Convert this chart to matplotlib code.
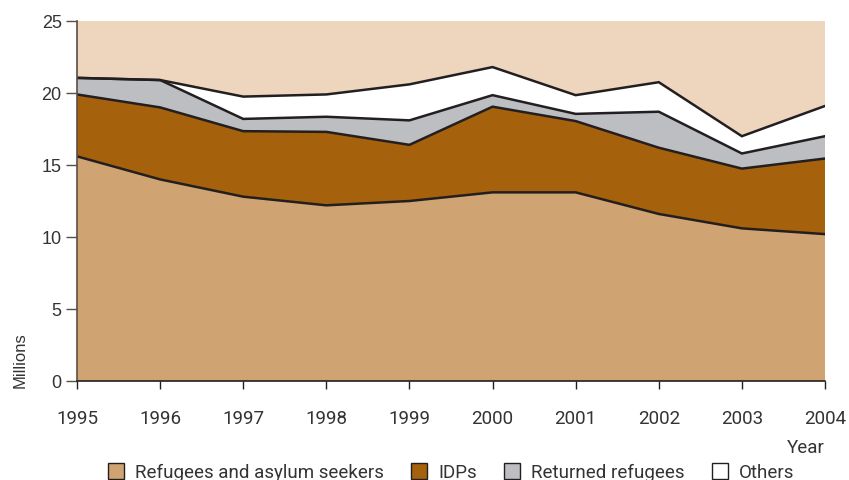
import numpy as np
import matplotlib.pyplot as plt
from matplotlib.patches import Patch

years = [1995, 1996, 1997, 1998, 1999, 2000, 2001, 2002, 2003, 2004]
refugees = [15.6, 14.0, 12.8, 12.2, 12.5, 13.1, 13.1, 11.6, 10.6, 10.2]
idps = [4.3, 5.0, 4.55, 5.1, 3.9, 5.95, 4.95, 4.6, 4.15, 5.25]
returned = [1.15, 1.9, 0.85, 1.05, 1.7, 0.8, 0.5, 2.5, 1.05, 1.55]
others = [0.0, 0.0, 1.55, 1.55, 2.5, 1.95, 1.3, 2.05, 1.2, 2.1]

labels = ['Refugees and asylum seekers', 'IDPs', 'Returned refugees', 'Others']
colors = ['#D0A373', '#A6610C', '#BDBEC1', '#FFFFFF']
bg = '#EDD6BD'
edge = '#231F20'

narrow = 'Roboto'
wide = 'Liberation Sans'

fig = plt.figure(figsize=(8.49, 4.81), dpi=100)
ax = fig.add_axes([77/849, 1 - 382/481, (825 - 77)/849, (382 - 22)/481])
ax.set_facecolor(bg)

series = [refugees, idps, returned, others]
stack = np.cumsum(np.array(series), axis=0)
lower = np.zeros(len(years))
for i, top in enumerate(stack):
    ax.fill_between(years, lower, top, facecolor=colors[i], edgecolor='none', zorder=2)
    ax.plot(years, top, color=edge, lw=1.8, solid_joinstyle='miter', zorder=3)
    lower = top

ax.set_xlim(1995, 2004)
ax.set_ylim(0, 25)
ax.set_xticks(years)
ax.set_xticklabels([str(y) for y in years], fontfamily=narrow, fontsize=13.5, color='#333333')
ax.set_yticks([0, 5, 10, 15, 20, 25])
ax.set_yticklabels(['0', '5', '10', '15', '20', '25'], fontfamily=wide, fontsize=13, color='#333333')

for s in ['top', 'right']:
    ax.spines[s].set_visible(False)
ax.spines['left'].set_color('#5B4E46')
ax.spines['bottom'].set_color('#231F20')
ax.spines['left'].set_linewidth(1.2)
ax.spines['bottom'].set_linewidth(1.2)
ax.spines['left'].set_zorder(4)
ax.spines['bottom'].set_zorder(4)
ax.tick_params(axis='x', direction='out', length=6, width=1, pad=14, colors='#231F20', labelcolor='#333333')
ax.tick_params(axis='y', direction='out', length=8, width=1, pad=3, colors='#5B4E46', labelcolor='#333333')

fig.text(825/849, 1 - 448/481, 'Year', ha='right', va='center', fontfamily=narrow, fontsize=13.5, color='#333333')
fig.text(20/849, 1 - 388/481, 'Millions', ha='center', va='bottom', rotation=90, fontfamily=wide, fontsize=12, color='#333333')

handles = [Patch(facecolor=c, edgecolor=edge, linewidth=1.0) for c in colors]
fig.legend(handles, labels, loc='center', bbox_to_anchor=(451/849, 1 - 473/481), ncol=4, frameon=False,
           prop={'family': narrow, 'size': 13.5}, handlelength=0.85, handleheight=0.95, handletextpad=0.6,
           columnspacing=1.45, labelcolor='#333333')

fig.savefig('out.png', dpi=100)
